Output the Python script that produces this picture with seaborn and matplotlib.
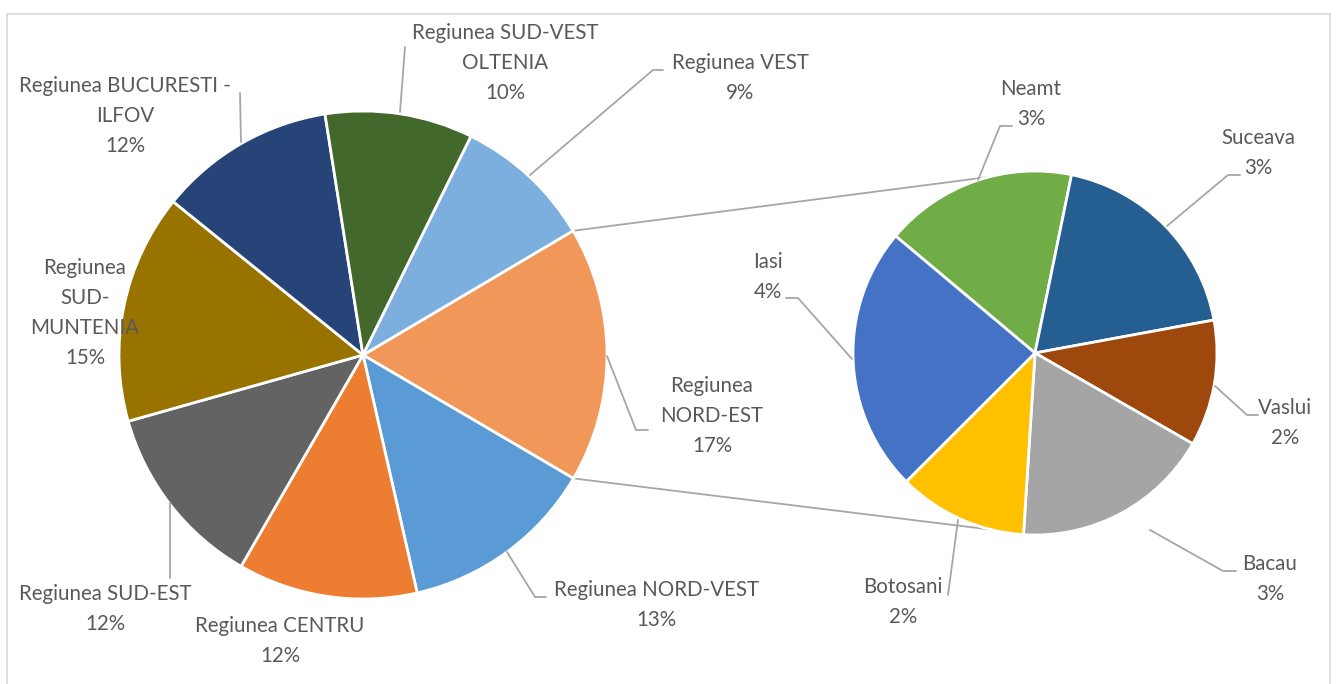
import numpy as np
import matplotlib
matplotlib.use("Agg")
import matplotlib.pyplot as plt
import seaborn as sns
from matplotlib.patches import Rectangle

# ---------------- data ----------------
main_labels = ["Regiunea\nNORD-EST", "Regiunea NORD-VEST", "Regiunea CENTRU",
               "Regiunea SUD-EST", "Regiunea\nSUD-\nMUNTENIA",
               "Regiunea BUCURESTI -\nILFOV", "Regiunea SUD-VEST\nOLTENIA",
               "Regiunea VEST"]
sub_labels = ["Neamt", "Suceava", "Vaslui", "Bacau", "Botosani", "Iasi"]
sub_values = [2.9, 3.2, 1.9, 3.0, 1.95, 4.0]
main_other_values = [13.0, 11.9, 12.3, 15.2, 11.7, 9.8, 9.2]
main_values = [sum(sub_values)] + main_other_values

main_colors = ["#F1975A", "#5B9BD5", "#ED7D31", "#636363", "#997300",
               "#264478", "#43682B", "#7CAFDD"]
sub_colors = ["#70AD47", "#255E91", "#9E480E", "#A5A5A5", "#FFC000", "#4472C4"]

# ---------------- layout (pixel space, image coords) ----------------
W, H = 1336, 684
sns.set_theme(style="white")
plt.rcParams["font.family"] = ["Lato", "DejaVu Sans"]

fig = plt.figure(figsize=(W / 100, H / 100), dpi=100)
ax = fig.add_axes([0, 0, 1, 1])
ax.set_xlim(0, W)
ax.set_ylim(0, H)
ax.set_aspect("equal")
ax.axis("off")


def Y(y):
    return H - y


main_c = (363, 355)
main_r = 244
sub_c = (1035, 353)
sub_r = 182
total = sum(main_values)

wp = dict(edgecolor="white", linewidth=2.0)
ax.pie(main_values, colors=main_colors, startangle=30.6, counterclock=False,
       center=(main_c[0], Y(main_c[1])), radius=main_r, wedgeprops=wp,
       frame=True)
ax.pie(sub_values, colors=sub_colors, startangle=140, counterclock=False,
       center=(sub_c[0], Y(sub_c[1])), radius=sub_r, wedgeprops=wp,
       frame=True)
ax.set_xlim(0, W)
ax.set_ylim(0, H)
ax.axis("off")

line_col = "#A6A6A6"
# connector lines (from NORD-EST wedge edges to top/bottom of secondary pie)
a0 = np.deg2rad(30.6)
a1 = np.deg2rad(30.6 - main_values[0] / total * 360)
for a, ty in [(a0, sub_c[1] - sub_r), (a1, sub_c[1] + sub_r)]:
    px = main_c[0] + main_r * np.cos(a)
    py = Y(main_c[1]) + main_r * np.sin(a)
    ax.plot([px, sub_c[0]], [py, Y(ty)], color=line_col, lw=1.3, zorder=0)

# label positions (image coords of block centre) and leader lines
main_pos = [(712, 416), (656, 605), (280, 641), (105, 609), (85, 313),
            (125, 116), (505, 63), (740, 78)]
main_lead = [[(607, 356), (636, 430), (648, 430)],
             [(507, 552), (535, 597), (546, 597)],
             None,
             [(170, 503), (170, 578)],
             None,
             [(241, 142), (240, 93)],
             [(400, 112), (405, 47)],
             [(530, 175), (653, 70), (663, 70)]]
sub_pos = [(1031, 104), (1258, 153), (1285, 423), (1270, 579), (903, 602),
           (768, 277)]
sub_lead = [[(978, 180), (1000, 126), (1012, 126)],
            [(1167, 226), (1228, 175), (1240, 175)],
            [(1215, 386), (1247, 415), (1258, 415)],
            [(1150, 530), (1223, 571), (1236, 571)],
            [(958, 520), (948, 595)],
            [(852, 359), (798, 298), (786, 298)]]

txt_col = "#595959"
fs = 14.8
ls = 1.63
for lab, v, pos, lead in zip(main_labels, main_values, main_pos, main_lead):
    ax.text(pos[0], Y(pos[1]), f"{lab}\n{round(v / total * 100)}%",
            ha="center", va="center", fontsize=fs, color=txt_col,
            linespacing=ls, zorder=5)
    if lead:
        ax.plot([p[0] for p in lead], [Y(p[1]) for p in lead],
                color=line_col, lw=1.3, zorder=4)
for lab, v, pos, lead in zip(sub_labels, sub_values, sub_pos, sub_lead):
    ax.text(pos[0], Y(pos[1]), f"{lab}\n{round(v / total * 100)}%",
            ha="center", va="center", fontsize=fs, color=txt_col,
            linespacing=ls, zorder=5)
    if lead:
        ax.plot([p[0] for p in lead], [Y(p[1]) for p in lead],
                color=line_col, lw=1.3, zorder=4)

# chart border
ax.add_patch(Rectangle((7, Y(700)), 1323, 700 - 14, fill=False,
                       edgecolor="#D9D9D9", lw=1.2, zorder=6,
                       clip_on=False))

fig.savefig("out.png", dpi=100)
